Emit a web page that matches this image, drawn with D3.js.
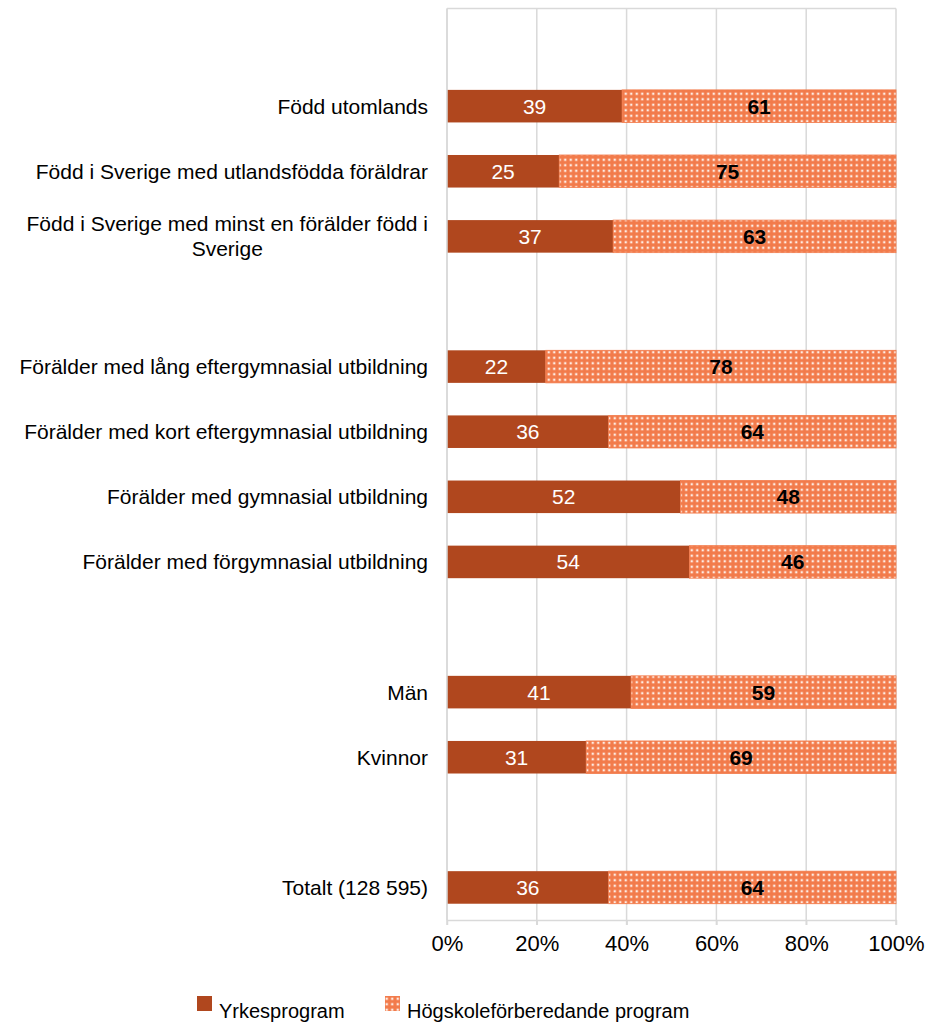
<!DOCTYPE html>
<html>
<head>
<meta charset="utf-8">
<script src="https://cdn.jsdelivr.net/npm/d3@7"></script>
<style>
  body { margin: 0; background: #fff; }
  svg text { font-family: "Liberation Sans", Arial, sans-serif; }
</style>
</head>
<body>
<div id="chart"></div>
<script>
// categories, top to bottom; empty strings are spacer rows
const categories = [
  '',
  'Född utomlands',
  'Född i Sverige med utlandsfödda föräldrar',
  'Född i Sverige med minst en förälder född i Sverige',
  '',
  'Förälder med lång eftergymnasial utbildning',
  'Förälder med kort eftergymnasial utbildning',
  'Förälder med gymnasial utbildning',
  'Förälder med förgymnasial utbildning',
  '',
  'Män',
  'Kvinnor',
  '',
  'Totalt (128 595)'
];
const yrkes = [null, 39, 25, 37, null, 22, 36, 52, 54, null, 41, 31, null, 36];
const hogskole = [null, 61, 75, 63, null, 78, 64, 48, 46, null, 59, 69, null, 64];
const seriesNames = ['Yrkesprogram', 'Högskoleförberedande program'];
const tickValues = [0, 20, 40, 60, 80, 100];

// label wrapping as in the original
const wrapped = {
  'Född i Sverige med minst en förälder född i Sverige': ['Född i Sverige med minst en förälder född i', 'Sverige']
};

const W = 934, H = 1023;
const margin = { top: 8.5, right: 38, bottom: 103, left: 447 };
const width = W - margin.left - margin.right;
const height = H - margin.top - margin.bottom;

const dark = '#b0471e';
const light = '#f27b4b';
const grid = '#d9d9d9';

const svg = d3.select('#chart').append('svg')
  .attr('width', W)
  .attr('height', H);

const defs = svg.append('defs');
const pat = defs.append('pattern')
  .attr('id', 'dots')
  .attr('patternUnits', 'userSpaceOnUse')
  .attr('width', 5.5)
  .attr('height', 5.5);
pat.append('rect').attr('width', 5.5).attr('height', 5.5).attr('fill', light);
pat.append('rect').attr('x', 1.5).attr('y', 1.5).attr('width', 2.5).attr('height', 2.5)
  .attr('fill', '#fbc9b2');
pat.append('rect').attr('x', 2).attr('y', 2).attr('width', 1.5).attr('height', 1.5)
  .attr('fill', '#ffffff');

const rows = categories.map((c, i) => ({ key: 'r' + i, label: c, a: yrkes[i], b: hogskole[i] }));

const y = d3.scaleBand()
  .domain(rows.map(d => d.key))
  .range([0, height])
  .paddingInner(0.5)
  .paddingOuter(0.25);

const x = d3.scaleLinear()
  .domain([0, 100])
  .range([0, width]);

const g = svg.append('g')
  .attr('transform', `translate(${margin.left},${margin.top})`);

// gridlines
g.selectAll('.grid')
  .data(tickValues)
  .enter().append('line')
  .attr('x1', d => x(d)).attr('x2', d => x(d))
  .attr('y1', 0).attr('y2', height + 5)
  .attr('stroke', grid)
  .attr('stroke-width', 1.5);

// top border
g.append('line')
  .attr('x1', 0).attr('x2', width)
  .attr('y1', 0).attr('y2', 0)
  .attr('stroke', grid).attr('stroke-width', 1.5);

// bottom axis
const xAxis = g.append('g')
  .attr('transform', `translate(0,${height})`)
  .call(d3.axisBottom(x).tickValues(tickValues).tickFormat(d => d + '%').tickSize(5).tickSizeOuter(0));
xAxis.select('.domain').attr('stroke', grid).attr('stroke-width', 1.5);
xAxis.selectAll('.tick line').attr('stroke', grid).attr('stroke-width', 1.5);
xAxis.selectAll('.tick text')
  .attr('fill', '#000')
  .attr('dy', '1.05em')
  .style('font-size', '22px');

const data = rows.filter(d => d.a != null);

// bars
g.selectAll('.bar-a')
  .data(data)
  .enter().append('rect')
  .attr('class', 'bar-a')
  .attr('x', x(0))
  .attr('y', d => y(d.key))
  .attr('width', d => x(d.a) - x(0))
  .attr('height', y.bandwidth())
  .attr('fill', dark);

g.selectAll('.bar-b')
  .data(data)
  .enter().append('rect')
  .attr('class', 'bar-b')
  .attr('x', d => x(d.a))
  .attr('y', d => y(d.key))
  .attr('width', d => x(d.a + d.b) - x(d.a))
  .attr('height', y.bandwidth())
  .attr('fill', 'url(#dots)')
  .attr('stroke', light)
  .attr('stroke-width', 0.8);

// left axis line
g.append('line')
  .attr('x1', 0).attr('x2', 0)
  .attr('y1', 0).attr('y2', height)
  .attr('stroke', grid).attr('stroke-width', 1.5);

// value labels
g.selectAll('.lab-a')
  .data(data)
  .enter().append('text')
  .attr('x', d => x(d.a / 2))
  .attr('y', d => y(d.key) + y.bandwidth() / 2)
  .attr('dy', '0.36em')
  .attr('text-anchor', 'middle')
  .attr('fill', '#fff')
  .style('font-size', '21px')
  .text(d => d.a);

g.selectAll('.lab-b')
  .data(data)
  .enter().append('text')
  .attr('x', d => x(d.a + d.b / 2))
  .attr('y', d => y(d.key) + y.bandwidth() / 2)
  .attr('dy', '0.36em')
  .attr('text-anchor', 'middle')
  .attr('fill', '#000')
  .style('font-size', '21px')
  .style('font-weight', 'bold')
  .text(d => d.b);

// category labels
data.forEach(d => {
  const cy = y(d.key) + y.bandwidth() / 2;
  const lines = wrapped[d.label];
  if (!lines) {
    g.append('text')
      .attr('x', -19)
      .attr('y', cy)
      .attr('dy', '0.36em')
      .attr('text-anchor', 'end')
      .attr('fill', '#000')
      .style('font-size', '21px')
      .text(d.label);
  } else {
    const t = g.append('text')
      .attr('text-anchor', 'middle')
      .attr('fill', '#000')
      .style('font-size', '21px');
    const probe = t.append('tspan').text(lines[0]);
    const w = probe.node().getComputedTextLength();
    probe.remove();
    const cx = -19 - w / 2;
    const lh = 25;
    lines.forEach((l, i) => {
      t.append('tspan')
        .attr('x', cx)
        .attr('y', cy + (i - (lines.length - 1) / 2) * lh)
        .attr('dy', '0.36em')
        .text(l);
    });
  }
});

// legend
const legend = svg.append('g').attr('transform', `translate(197,996)`);
const items = [
  { name: seriesNames[0], fill: dark, x: 0 },
  { name: seriesNames[1], fill: 'url(#dots)', x: 188 }
];
items.forEach(it => {
  legend.append('rect')
    .attr('x', it.x).attr('y', 0)
    .attr('width', 15).attr('height', 15)
    .attr('fill', it.fill);
  legend.append('text')
    .attr('x', it.x + 22)
    .attr('y', 22)
    .attr('fill', '#000')
    .style('font-size', '20px')
    .text(it.name);
});
</script>
</body>
</html>
